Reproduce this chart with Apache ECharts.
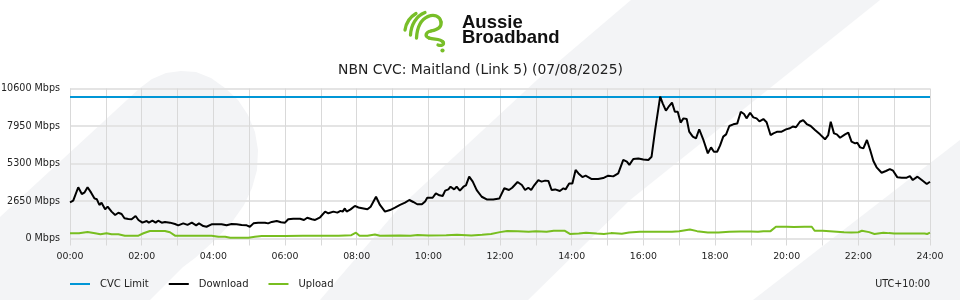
<!DOCTYPE html>
<html>
<head>
<meta charset="utf-8">
<script src="https://cdn.jsdelivr.net/npm/echarts@6/dist/echarts.min.js"></script>
<style>
html,body{margin:0;padding:0;background:#fff;}
#chart{width:960px;height:300px;}
</style>
</head>
<body>
<div id="chart"></div>
<script>
// ---- data (hours since midnight, Mbps) ----
var chartTitle = 'NBN CVC: Maitland (Link 5) (07/08/2025)';
var timezoneLabel = 'UTC+10:00';
var seriesNames = ['CVC Limit', 'Download', 'Upload'];
var yTicks = [0, 2650, 5300, 7950, 10600];
var xLabels = ['00:00','02:00','04:00','06:00','08:00','10:00','12:00','14:00','16:00','18:00','20:00','22:00','24:00'];

var cvcTime = [0, 24];
var cvcMbps = [10000, 10000];

var downloadTime = [0.00,0.09,0.23,0.33,0.40,0.49,0.59,0.68,0.75,0.82,0.88,0.98,1.05,1.16,1.26,1.35,1.44,1.52,1.63,1.72,1.83,1.91,2.02,2.14,2.20,2.30,2.39,2.46,2.56,2.65,2.79,2.93,3.02,3.16,3.28,3.40,3.52,3.60,3.72,3.81,3.95,4.23,4.37,4.51,4.65,4.79,4.93,5.02,5.12,5.25,5.44,5.53,5.63,5.77,5.89,6.00,6.09,6.23,6.42,6.53,6.62,6.75,6.84,6.98,7.12,7.21,7.35,7.46,7.55,7.61,7.67,7.72,7.83,7.95,8.05,8.19,8.30,8.39,8.54,8.65,8.79,8.93,9.07,9.21,9.35,9.47,9.58,9.69,9.82,9.91,9.97,10.12,10.21,10.31,10.40,10.47,10.56,10.62,10.72,10.79,10.88,10.98,11.05,11.14,11.24,11.35,11.49,11.63,11.81,11.98,12.03,12.12,12.25,12.34,12.49,12.61,12.70,12.79,12.87,12.96,13.07,13.16,13.26,13.35,13.44,13.54,13.67,13.77,13.83,13.93,14.02,14.11,14.19,14.30,14.39,14.56,14.74,14.88,15.02,15.16,15.30,15.44,15.54,15.61,15.72,15.86,16.00,16.14,16.23,16.33,16.47,16.54,16.63,16.72,16.80,16.88,16.96,17.04,17.12,17.21,17.28,17.38,17.47,17.56,17.67,17.80,17.89,17.97,18.06,18.14,18.23,18.31,18.40,18.51,18.62,18.72,18.81,18.88,18.98,19.07,19.16,19.24,19.35,19.44,19.55,19.63,19.74,19.86,19.98,20.09,20.17,20.26,20.37,20.46,20.56,20.67,20.79,20.93,21.07,21.16,21.23,21.32,21.40,21.49,21.63,21.72,21.81,21.91,21.97,22.05,22.14,22.24,22.33,22.42,22.51,22.65,22.77,22.88,22.97,23.09,23.21,23.35,23.44,23.52,23.65,23.77,23.91,24.00];
var downloadMbps = [2550,2670,3620,3145,3240,3620,3240,2840,2770,2370,2530,2060,2250,1900,1660,1820,1730,1430,1380,1360,1590,1310,1120,1240,1120,1260,1120,1260,1120,1170,1120,1025,930,1070,960,1120,930,1070,880,830,1000,1000,930,1025,1000,960,930,830,1070,1120,1120,1070,1170,1240,1150,1120,1360,1400,1400,1310,1470,1360,1310,1500,1900,1780,1900,1830,1950,1900,2130,1900,2060,2300,2190,2120,2060,2250,2950,2370,1900,2010,2180,2370,2530,2720,2580,2420,2420,2620,2880,2880,3190,3050,3000,3380,3470,3660,3470,3660,3380,3660,3750,4370,4020,3420,2950,2760,2760,2820,2880,3550,3430,3590,3990,3780,3430,3590,3430,3780,4130,4020,4090,4070,3430,3470,3360,3550,3470,3880,3880,4840,4600,4340,4440,4200,4200,4270,4440,4390,4600,5550,5430,5200,5620,5660,5590,5550,5780,7670,10020,9550,9030,9360,9600,8960,8960,8190,8490,8440,7550,7200,7080,7720,7010,6020,6440,6130,6130,6560,7200,7360,7950,8070,8120,8960,8800,8490,8890,8560,8490,8280,8440,8210,7310,7430,7550,7550,7710,7790,7910,7860,8250,8370,8090,7950,7670,7360,7010,7310,8250,7430,7360,7120,7360,7480,6840,6720,6770,6440,6370,6960,6250,5480,5030,4650,4770,4910,4790,4320,4300,4300,4410,4130,4370,4130,3850,4010];

var uploadTime = [0.00,0.25,0.49,0.70,0.85,1.02,1.16,1.35,1.53,1.91,2.05,2.23,2.65,2.79,2.93,3.50,3.95,4.14,4.33,4.47,4.98,5.16,5.35,6.00,6.50,7.00,7.50,7.85,7.98,8.08,8.30,8.51,8.65,9.20,9.50,9.70,10.00,10.50,10.80,11.20,11.50,11.75,12.00,12.20,12.50,12.80,13.00,13.30,13.50,13.80,13.95,14.20,14.40,14.70,14.90,15.10,15.40,15.60,15.90,16.20,16.50,16.80,17.00,17.30,17.50,17.80,18.10,18.40,18.70,19.00,19.20,19.35,19.55,19.70,20.00,20.20,20.50,20.70,20.78,21.00,21.30,21.60,21.80,22.00,22.10,22.30,22.45,22.70,22.85,23.00,23.50,23.85,23.92,24.00];
var uploadMbps = [370,370,460,370,300,370,300,300,200,200,370,530,530,440,200,200,200,130,130,60,60,130,180,180,190,200,200,230,410,200,190,280,200,220,200,250,220,230,260,220,270,320,450,530,520,470,520,470,550,550,320,350,400,350,320,380,340,420,480,480,480,480,520,640,520,420,420,470,500,500,470,520,520,830,830,810,830,830,550,540,500,450,420,440,550,450,320,410,380,360,360,360,320,410];

function pairs(t, v){ var out=[]; for(var i=0;i<t.length;i++){ out.push([t[i], v[i]]); } return out; }

var FONT = 'DejaVu Sans';
var BG = '#f3f4f6';
var GREEN_LOGO = '#78be28';

function curve(x1,y1,c1x,c1y,c2x,c2y,x2,y2){
  return {type:'bezierCurve', z:5, silent:true,
    shape:{x1:x1,y1:y1,cpx1:c1x,cpy1:c1y,cpx2:c2x,cpy2:c2y,x2:x2,y2:y2},
    style:{stroke:GREEN_LOGO, lineWidth:3.3, fill:null, lineCap:'round'}};
}

var chart = echarts.init(document.getElementById('chart'), null, {renderer:'canvas'});

var graphics = [
  // decorative background shapes
  {type:'polygon', z:-10, silent:true, shape:{points:[[0,217],[140,88],[152,79],[166,73],[181,71],[196,72],[211,78],[225,88],[238,100],[248,115],[255,132],[258,150],[257,170],[252,188],[244,205],[232,222],[215,240],[195,258],[183,267],[150,300],[0,300]]}, style:{fill:BG}},
  {type:'polygon', z:-10, silent:true, shape:{points:[[631,0],[880,0],[630,200],[528,300],[320,300],[400,207],[537,80]]}, style:{fill:BG}},
  {type:'polygon', z:-10, silent:true, shape:{points:[[960,140],[960,300],[753,300]]}, style:{fill:BG}},
  // logo icon
  curve(405,30, 406,23, 410,17, 416,13.5),
  curve(410.5,35, 411,25, 416,16, 425,12.5),
  curve(416.5,38, 417,29, 420,20, 428,16.5),
  curve(428,16.5, 434,14, 440,16, 441,22),
  curve(441,22, 442,28, 436,30, 431,31),
  curve(431,31, 426,32, 424,36, 429,38),
  curve(429,38, 434,40, 440,38, 443,42),
  curve(443,42, 445,45, 441,46, 438,45),
  {type:'circle', z:5, silent:true, shape:{cx:442.5, cy:50.5, r:2.1}, style:{fill:GREEN_LOGO}},
  {type:'text', z:5, silent:true, style:{text:'Aussie', x:462, y:32.5, textVerticalAlign:'bottom', font:'bold 18.5px "Liberation Sans", Arial, sans-serif', fill:'#111'}},
  {type:'text', z:5, silent:true, style:{text:'Broadband', x:462, y:47, textVerticalAlign:'bottom', font:'bold 18.5px "Liberation Sans", Arial, sans-serif', fill:'#111'}},
  // title
  {type:'text', z:5, silent:true, style:{text:chartTitle, x:480.5, y:70.5, textAlign:'center', textVerticalAlign:'middle', font:'13.9px "DejaVu Sans"', fill:'#222'}},
  // timezone
  {type:'text', z:5, silent:true, style:{text:timezoneLabel, x:930, y:284, textAlign:'right', textVerticalAlign:'middle', font:'9.6px "DejaVu Sans"', fill:'#222'}}
];

var option = {
  animation: false,
  backgroundColor: '#ffffff',
  textStyle: {fontFamily: FONT},
  graphic: graphics,
  legend: {
    left: 70, top: 279, padding: 0,
    icon: 'rect', itemWidth: 20, itemHeight: 2, itemGap: 20,
    textStyle: {fontFamily: FONT, fontSize: 10, color:'#222', padding:[0,0,0,5]},
    data: seriesNames
  },
  grid: {left: 70, right: 30, top: 88.5, bottom: 61.5, containLabel: false, outerBoundsMode: 'none'},
  xAxis: {
    type: 'value', min: 0, max: 24, interval: 1,
    axisLine: {show:false},
    axisTick: {show:true, length:7, lineStyle:{color:'#d9d9d9', width:1}},
    splitLine: {show:true, lineStyle:{color:'#d9d9d9', width:1}},
    axisLabel: {
      margin: 14, fontSize: 9.4, fontFamily: FONT, color:'#222',
      formatter: function(v){ return (v % 2 === 0) ? xLabels[v/2] : ''; }
    }
  },
  yAxis: {
    type: 'value', min: yTicks[0], max: yTicks[yTicks.length-1], interval: yTicks[1]-yTicks[0],
    axisLine: {show:false}, axisTick: {show:false},
    splitLine: {show:true, lineStyle:{color:'#e4e4e4', width:2}},
    axisLabel: {margin: 10, fontSize: 9.6, fontFamily: FONT, color:'#222', formatter: function(v){ return v + ' Mbps'; }}
  },
  series: [
    {name: seriesNames[0], type:'line', data: pairs(cvcTime, cvcMbps), showSymbol:false, symbol:'none', color:'#0096d6', lineStyle:{width:2, color:'#0096d6'}, z:3},
    {name: seriesNames[1], type:'line', data: pairs(downloadTime, downloadMbps), showSymbol:false, symbol:'none', color:'#000000', lineStyle:{width:2, color:'#000000'}, z:4},
    {name: seriesNames[2], type:'line', data: pairs(uploadTime, uploadMbps), showSymbol:false, symbol:'none', color:'#78be20', lineStyle:{width:2, color:'#78be20'}, z:3}
  ]
};
chart.setOption(option);
</script>
</body>
</html>
